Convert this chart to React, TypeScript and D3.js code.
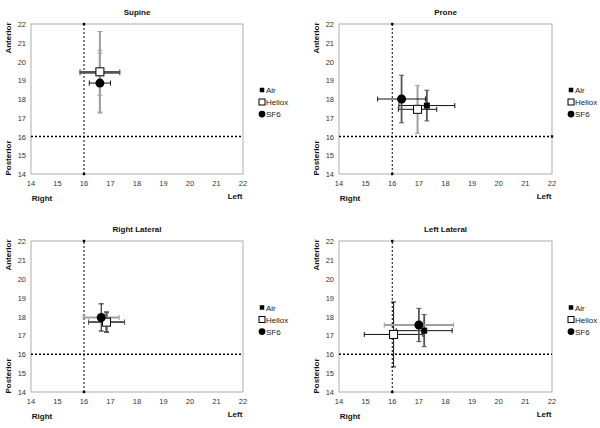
import React from "react";
import * as d3 from "d3";

const panelTitles = ["Supine", "Prone", "Right Lateral", "Left Lateral"];
const seriesNames = ["Air", "Heliox", "SF6"];
const xTicks = [14, 15, 16, 17, 18, 19, 20, 21, 22];
const yTicks = [14, 15, 16, 17, 18, 19, 20, 21, 22];

// per panel: [Air, Heliox, SF6]
const xMeans = [
  [16.6, 16.6, 16.6],
  [17.3, 16.95, 16.35],
  [16.85, 16.85, 16.65],
  [17.2, 16.05, 17.0],
];
const yMeans = [
  [19.4, 19.45, 18.85],
  [17.65, 17.45, 18.0],
  [17.7, 17.7, 17.95],
  [17.25, 17.05, 17.55],
];
const xErrs = [
  [0.75, 0.75, 0.4],
  [1.05, 0.72, 0.9],
  [0.68, 0.68, 0.68],
  [1.05, 1.1, 1.3],
];
const yErrs = [
  [1.2, 2.15, 1.6],
  [0.82, 1.28, 1.27],
  [0.5, 0.55, 0.72],
  [0.85, 1.72, 0.88],
];

// style codes for error bars: 0 black thin, 1 dark grey, 2 light grey
const xErrStyle = [
  [1, 1, 0],
  [0, 0, 0],
  [1, 1, 2],
  [0, 0, 2],
];
const yErrStyle = [
  [2, 2, 2],
  [1, 2, 1],
  [1, 1, 0],
  [1, 0, 1],
];
const errStyles = [
  { stroke: "#111", width: 1 },
  { stroke: "#555", width: 1.8 },
  { stroke: "#a0a0a0", width: 2 },
];

const plotRects = [
  { l: 31, r: 243, t: 24, b: 174 },
  { l: 339, r: 552, t: 24, b: 174 },
  { l: 31, r: 243, t: 241, b: 392 },
  { l: 339, r: 552, t: 241, b: 392 },
];

const font = "'Liberation Sans', Arial, sans-serif";

function Marker({ kind, x, y, k = 1 }: { kind: number; x: number; y: number; k?: number }) {
  if (kind === 0) {
    const h = 3 * k;
    return <rect x={x - h} y={y - h} width={2 * h} height={2 * h} fill="#000" />;
  }
  if (kind === 1) {
    const h = 4 * k;
    return <rect x={x - h} y={y - h} width={2 * h} height={2 * h} fill="#fff" stroke="#000" strokeWidth={1} />;
  }
  return <circle cx={x} cy={y} r={4.5 * k} fill="#000" />;
}

function Panel({ i }: { i: number }) {
  const R = plotRects[i];
  const xs = d3.scaleLinear().domain([14, 22]).range([R.l, R.r]);
  const ys = d3.scaleLinear().domain([14, 22]).range([R.b, R.t]);
  const midX = (R.l + R.r) / 2;
  const labelX = R.l - 23;
  const legX = R.r + 19;
  const legY = (R.t + R.b) / 2 - 9;
  const cap = 2.5;
  return (
    <g>
      <text x={midX} y={R.t - 9} textAnchor="middle" fontSize={8} fontWeight="bold" fontFamily={font} fill="#111">
        {panelTitles[i]}
      </text>
      <rect x={R.l} y={R.t} width={R.r - R.l} height={R.b - R.t} fill="none" stroke="#999" strokeWidth={0.8} />
      {/* dashed guides */}
      <line x1={xs(16)} x2={xs(16)} y1={ys(14)} y2={ys(22)} stroke="#000" strokeWidth={1} strokeDasharray="2,2" />
      <line x1={xs(14)} x2={xs(22)} y1={ys(16)} y2={ys(16)} stroke="#000" strokeWidth={1.4} strokeDasharray="2,2" />
      <rect x={xs(16) - 1.2} y={ys(22) - 1.2} width={2.4} height={2.4} fill="#000" />
      <rect x={xs(16) - 1.2} y={ys(14) - 1.2} width={2.4} height={2.4} fill="#000" />
      {i === 1 && <rect x={xs(22) - 1.2} y={ys(16) - 1.2} width={2.4} height={2.4} fill="#000" />}
      {/* axis ticks */}
      {yTicks.map((t) => (
        <text key={"y" + t} x={R.l - 5} y={ys(t) + 3} textAnchor="end" fontSize={7.5} fontFamily={font} fill="#333">
          {t}
        </text>
      ))}
      {xTicks.map((t) => (
        <text key={"x" + t} x={xs(t)} y={R.b + 12} textAnchor="middle" fontSize={7.5} fontFamily={font} fill="#333">
          {t}
        </text>
      ))}
      <text x={R.l + 11} y={R.b + 27} textAnchor="middle" fontSize={8} fontWeight="bold" fontFamily={font} fill="#111">
        Right
      </text>
      <text x={R.r - 8} y={R.b + 25} textAnchor="middle" fontSize={8} fontWeight="bold" fontFamily={font} fill="#111">
        Left
      </text>
      <text
        transform={`translate(${labelX + 3},${R.t + 14}) rotate(-90)`}
        textAnchor="middle"
        fontSize={8}
        fontWeight="bold"
        fontFamily={font}
        fill="#111"
      >
        Anterior
      </text>
      <text
        transform={`translate(${labelX + 3},${R.b - 16}) rotate(-90)`}
        textAnchor="middle"
        fontSize={8}
        fontWeight="bold"
        fontFamily={font}
        fill="#111"
      >
        Posterior
      </text>
      {/* error bars */}
      {seriesNames.map((_, s) => {
        const cx = xs(xMeans[i][s]);
        const cy = ys(yMeans[i][s]);
        const x0 = xs(xMeans[i][s] - xErrs[i][s]);
        const x1 = xs(xMeans[i][s] + xErrs[i][s]);
        const y0 = ys(yMeans[i][s] - yErrs[i][s]);
        const y1 = ys(yMeans[i][s] + yErrs[i][s]);
        const xsSt = errStyles[xErrStyle[i][s]];
        const ysSt = errStyles[yErrStyle[i][s]];
        return (
          <g key={"e" + s}>
            <line x1={cx} x2={cx} y1={y0} y2={y1} stroke={ysSt.stroke} strokeWidth={ysSt.width} />
            <line x1={cx - cap} x2={cx + cap} y1={y0} y2={y0} stroke={ysSt.stroke} strokeWidth={1} />
            <line x1={cx - cap} x2={cx + cap} y1={y1} y2={y1} stroke={ysSt.stroke} strokeWidth={1} />
            <line x1={x0} x2={x1} y1={cy} y2={cy} stroke={xsSt.stroke} strokeWidth={xsSt.width} />
            <line x1={x0} x2={x0} y1={cy - cap} y2={cy + cap} stroke={xsSt.stroke} strokeWidth={1} />
            <line x1={x1} x2={x1} y1={cy - cap} y2={cy + cap} stroke={xsSt.stroke} strokeWidth={1} />
          </g>
        );
      })}
      {seriesNames.map((_, s) => (
        <Marker key={"m" + s} kind={s} x={xs(xMeans[i][s])} y={ys(yMeans[i][s])} />
      ))}
      {/* legend */}
      {seriesNames.map((n, s) => (
        <g key={"l" + s}>
          <Marker kind={s} x={legX} y={legY + s * 12} k={0.75} />
          <text x={legX + 4} y={legY + s * 12 + 3} fontSize={8} fontFamily={font} fill="#222">
            {n}
          </text>
        </g>
      ))}
    </g>
  );
}

export default function App() {
  return (
    <svg width={600} height={428} style={{ position: "absolute", left: 0, top: 0, background: "#fff" }}>
      <rect width={600} height={428} fill="#fff" />
      {panelTitles.map((_, i) => (
        <Panel key={i} i={i} />
      ))}
    </svg>
  );
}
